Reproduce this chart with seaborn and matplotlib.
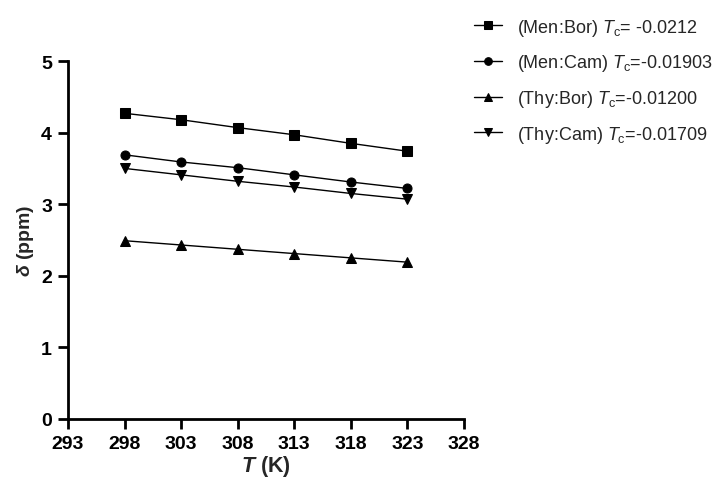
import matplotlib
matplotlib.use("Agg")
import matplotlib.pyplot as plt
import seaborn as sns
import pandas as pd

temps = [298, 303, 308, 313, 318, 323]
men_bor = [4.27, 4.18, 4.07, 3.97, 3.85, 3.74]
men_cam = [3.69, 3.59, 3.51, 3.41, 3.31, 3.22]
thy_bor = [2.49, 2.43, 2.37, 2.31, 2.25, 2.19]
thy_cam = [3.50, 3.41, 3.32, 3.24, 3.15, 3.07]
labels = [r"(Men:Bor) $T_\mathrm{c}$= -0.0212",
          r"(Men:Cam) $T_\mathrm{c}$=-0.01903",
          r"(Thy:Bor) $T_\mathrm{c}$=-0.01200",
          r"(Thy:Cam) $T_\mathrm{c}$=-0.01709"]
xticks = [293, 298, 303, 308, 313, 318, 323, 328]
yticks = [0, 1, 2, 3, 4, 5]

sns.set_style("ticks")
plt.rcParams['font.family'] = ['Liberation Sans', 'DejaVu Sans']
plt.rcParams['mathtext.fontset'] = 'custom'
plt.rcParams['mathtext.rm'] = 'Liberation Sans'
plt.rcParams['mathtext.it'] = 'Liberation Sans:italic'
plt.rcParams['mathtext.bf'] = 'Liberation Sans:bold'
plt.rcParams['mathtext.bfit'] = 'Liberation Sans:bold:italic'

series = [men_bor, men_cam, thy_bor, thy_cam]
markers = ['s', 'o', '^', 'v']
rows = []
for lab, vals in zip(labels, series):
    for t, v in zip(temps, vals):
        rows.append({"T": t, "delta": v, "series": lab})
df = pd.DataFrame(rows)

fig = plt.figure(figsize=(7.15, 4.81), dpi=100)
ax = fig.add_axes([0.095, 0.127, 0.554, 0.744])
sns.lineplot(data=df, x="T", y="delta", hue="series", style="series",
             markers=dict(zip(labels, markers)), dashes=False,
             palette=['black'] * 4, markersize=6.5, linewidth=1.0,
             markeredgecolor='black', ax=ax)

ax.set_xlim(293, 328)
ax.set_ylim(0, 5)
ax.set_xticks(xticks)
ax.set_yticks(yticks)
for sp in ['top', 'right']:
    ax.spines[sp].set_visible(False)
for sp in ['left', 'bottom']:
    ax.spines[sp].set_linewidth(2)
    ax.spines[sp].set_color('black')
ax.tick_params(axis='both', width=2, length=7.5, direction='out', colors='black',
               labelsize=14, pad=4)
for lbl in ax.get_xticklabels() + ax.get_yticklabels():
    lbl.set_fontweight('bold')
ax.set_xlabel(r"$\boldsymbol{T}$ (K)", fontsize=15.5, fontweight='bold', labelpad=1)
ax.set_ylabel(r"$\boldsymbol{\delta}$ (ppm)", fontsize=14, fontweight='bold', labelpad=4)

leg = ax.legend(loc='upper left', bbox_to_anchor=(0.663, 0.963),
                bbox_transform=fig.transFigure, frameon=False,
                borderpad=0, borderaxespad=0,
                fontsize=13, handlelength=1.55, labelspacing=0.81,
                handletextpad=0.85, title=None)
for h in leg.legend_handles:
    h.set_color('black')
    h.set_markersize(5.5)
    h.set_linewidth(1.0)

fig.savefig("out.png", dpi=100)
